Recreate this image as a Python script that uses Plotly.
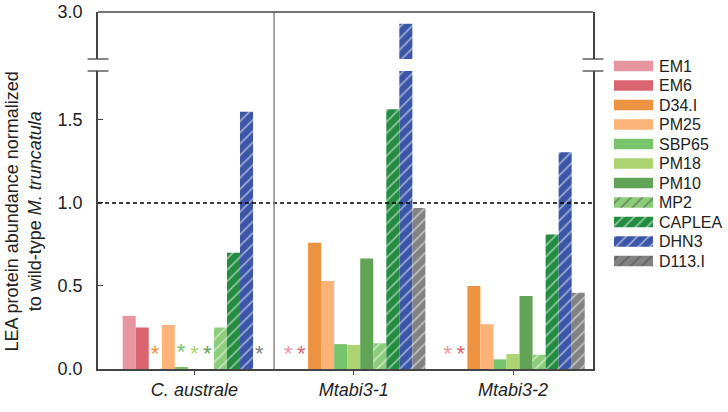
import plotly.graph_objects as go

categories = ["C. australe", "Mtabi3-1", "Mtabi3-2"]
tick_text = ["<i>C. australe</i>", "<i>Mtabi3-1</i>", "<i>Mtabi3-2</i>"]

series_names = ["EM1", "EM6", "D34.I", "PM25", "SBP65", "PM18", "PM10",
                "MP2", "CAPLEA", "DHN3", "D113.I"]
EM1 = [0.32, 0.0, 0.0]
EM6 = [0.25, 0.0, 0.0]
D34I = [0.0, 0.76, 0.50]
PM25 = [0.265, 0.53, 0.27]
SBP65 = [0.01, 0.15, 0.058]
PM18 = [0.0, 0.145, 0.09]
PM10 = [0.0, 0.665, 0.44]
MP2 = [0.25, 0.155, 0.086]
CAPLEA = [0.70, 1.565, 0.81]
DHN3 = [1.55, 2.93, 1.305]
D113I = [0.0, 0.97, 0.46]
series_values = [EM1, EM6, D34I, PM25, SBP65, PM18, PM10, MP2, CAPLEA, DHN3, D113I]

# not detected (asterisk)
EM1_nd = [False, True, True]
EM6_nd = [False, True, True]
D34I_nd = [True, False, False]
PM25_nd = [False, False, False]
SBP65_nd = [True, False, False]
PM18_nd = [True, False, False]
PM10_nd = [True, False, False]
MP2_nd = [False, False, False]
CAPLEA_nd = [False, False, False]
DHN3_nd = [False, False, False]
D113I_nd = [True, False, False]
series_nd = [EM1_nd, EM6_nd, D34I_nd, PM25_nd, SBP65_nd, PM18_nd, PM10_nd,
             MP2_nd, CAPLEA_nd, DHN3_nd, D113I_nd]

colors = ["#e7969f", "#da6571", "#ed9240", "#fcb378", "#78c46a", "#acd471",
          "#62a456", "#8ccd7a", "#238c41", "#3b56a8", "#828282"]
hatched = [False] * 7 + [True] * 4

y_ticks_low = [0.0, 0.5, 1.0, 1.5]
y_ticks_high = [3.0]
ref_line = 1.0

FONT = "Liberation Sans, Arial, sans-serif"
TXT = "#222"
AX = "#444"

def pattern_for(col, h):
    if h:
        return dict(shape="/", fgcolor="white", bgcolor=col,
                    fillmode="overlay", size=8, solidity=0.22)
    return dict(shape="")

fig = go.Figure()
for name, vals, nd, col, h in zip(series_names, series_values, series_nd, colors, hatched):
    marker = dict(color=col, line=dict(width=0), pattern=pattern_for(col, h))
    texts = ["*" if f else "" for f in nd]
    fig.add_trace(go.Bar(
        x=categories, y=vals, name=name, marker=marker,
        text=texts, textposition="outside", cliponaxis=False,
        textfont=dict(color=col, size=22, family=FONT),
        constraintext="none", xaxis="x", yaxis="y", showlegend=False,
    ))
    fig.add_trace(go.Bar(
        x=categories, y=vals, name=name, marker=marker, showlegend=False,
        xaxis="x", yaxis="y2", hoverinfo="skip",
    ))

# key (legend) drawn as a small bar panel from the series lists
key_pos = list(range(len(series_names)))
KEY_W = 0.55
fig.add_trace(go.Bar(
    y=key_pos, x=[1] * len(series_names), orientation="h",
    width=KEY_W, offsetgroup="key", alignmentgroup="key",
    xaxis="x3", yaxis="y3", showlegend=False, hoverinfo="skip",
    marker=dict(
        color=colors, line=dict(width=0),
        pattern=dict(shape=["/" if h else "" for h in hatched],
                     fgcolor="white", bgcolor=colors, fillmode="overlay",
                     size=8, solidity=0.22),
    ),
))

PW = 630.0           # plot-area width in px (98 .. 728)
PH = 357.0           # plot-area height in px (12 .. 369)
main_right = 495 / PW
low_top = 298 / PH
high_bot = 310 / PH

fig.update_layout(
    template="none",
    width=728, height=412,
    margin=dict(l=98, r=0, t=12, b=43, autoexpand=False),
    plot_bgcolor="white", paper_bgcolor="white",
    barmode="group", bargap=0.1, bargroupgap=0,
    font=dict(family=FONT, size=18, color=TXT),
    showlegend=False,
    xaxis=dict(
        domain=[0, main_right],
        type="category", categoryorder="array", categoryarray=categories,
        tickvals=categories, ticktext=tick_text, automargin=False,
        range=[-0.605, 2.502], showline=True, linecolor=AX, linewidth=1.5,
        ticks="outside", ticklen=4, tickcolor=AX,
        tickfont=dict(size=18, family=FONT, color=TXT), anchor="y",
        showgrid=False, zeroline=False,
    ),
    yaxis=dict(
        domain=[0, low_top], range=[0, 1.795], tickvals=y_ticks_low,
        tickformat=".1f", showline=True, linecolor=AX, linewidth=1.5,
        mirror=True, ticks="inside", ticklen=5, tickcolor=AX, automargin=False,
        showgrid=False, zeroline=False, ticklabelstandoff=10, anchor="x",
        tickfont=dict(size=18, family=FONT, color=TXT),
    ),
    yaxis2=dict(
        domain=[high_bot, 1], range=[2.717, 3.0], tickvals=y_ticks_high,
        tickformat=".1f", showline=True, linecolor=AX, linewidth=1.5,
        mirror=True, ticks="", showgrid=False, zeroline=False, automargin=False,
        ticklabelstandoff=10, anchor="x",
        tickfont=dict(size=18, family=FONT, color=TXT),
    ),
    xaxis3=dict(
        domain=[516 / PW, 555 / PW], range=[0, 1], visible=False,
        anchor="y3", fixedrange=True,
    ),
    yaxis3=dict(
        domain=[(369 - 270.75) / PH, (369 - 56.25) / PH],
        type="linear", tickvals=key_pos, ticktext=series_names,
        range=[len(series_names) - 0.5, -0.5], anchor="x3", side="right",
        showline=False, ticks="", showgrid=False, zeroline=False,
        automargin=False, ticklabelstandoff=5, fixedrange=True,
        tickfont=dict(size=16, family=FONT, color=TXT),
    ),
)

shapes = [
    dict(type="line", xref="x domain", yref="y", x0=0, x1=1, y0=ref_line, y1=ref_line,
         line=dict(color="black", width=1.3, dash="4px,3px")),
    dict(type="line", xref="x", yref="paper", x0=0.5, x1=0.5, y0=0, y1=1,
         line=dict(color="#888", width=1.5)),
    dict(type="line", xref="x domain", yref="y2 domain", x0=0, x1=1, y0=1, y1=1,
         line=dict(color=AX, width=1.5)),
]
for yref, yv in (("y domain", 1), ("y2 domain", 0)):
    for xc in (0, 1):
        shapes.append(dict(type="line", xref="x domain", yref=yref,
                           x0=xc - 0.021, x1=xc + 0.021, y0=yv, y1=yv,
                           line=dict(color=AX, width=1.3)))
fig.update_layout(shapes=shapes)

fig.add_annotation(
    text="LEA protein abundance normalized<br>to wild-type <i>M. truncatula</i>",
    xref="paper", yref="paper", x=(23.5 - 98) / PW, y=0.44, xanchor="center",
    yanchor="middle", textangle=-90, showarrow=False,
    font=dict(size=18, family=FONT, color=TXT),
)

fig.write_html(
    "out.html",
    config={"displayModeBar": False},
    post_script="document.body.style.margin='0';document.body.style.overflow='hidden';",
)
